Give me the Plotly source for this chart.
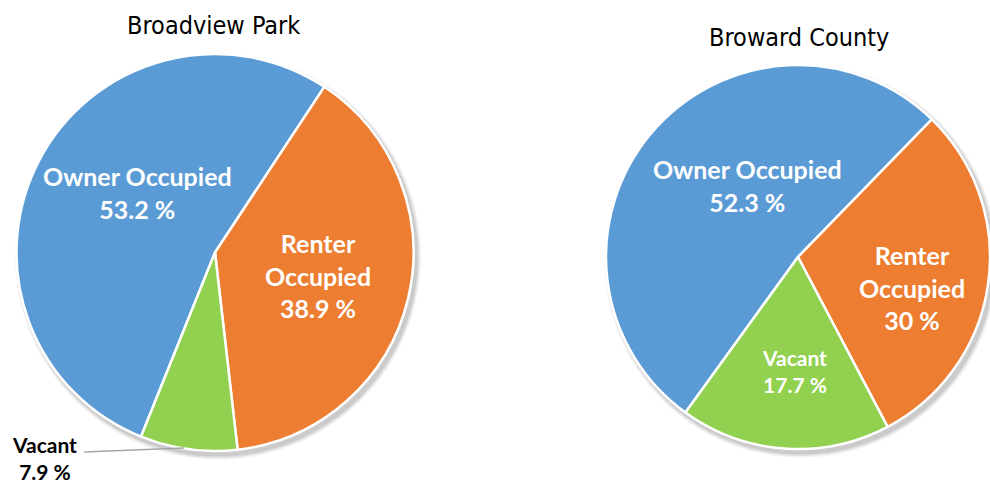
import plotly.graph_objects as go

W, H = 990, 485

categories = ["Owner Occupied", "Renter Occupied", "Vacant"]
broadview_values = [53.2, 38.9, 7.9]
broward_values = [52.3, 30.0, 17.7]
titles = ["Broadview Park", "Broward County"]
colors = ["#5B9BD5", "#ED7D31", "#92D050"]

def px_x(v):
    return v / W

def px_y(v):
    return 1 - v / H

# pie geometry (pixels): left, top, right, bottom
left_box = (16, 54, 414, 451)
right_box = (606, 62, 990, 452)

def dom(b):
    return dict(x=[px_x(b[0]), px_x(b[2])], y=[px_y(b[3]), px_y(b[1])])

fig = go.Figure()
for vals, box, rot in [(broadview_values, left_box, 201.9), (broward_values, right_box, 215.9)]:
    fig.add_trace(go.Pie(
        labels=categories, values=vals, sort=False, direction="clockwise",
        rotation=rot, domain=dom(box), textinfo="none", hoverinfo="label+percent",
        marker=dict(colors=colors, line=dict(color="white", width=2.5)),
        showlegend=False,
    ))

def lab(name):
    return name.replace(" ", "<br>") if name.startswith("Renter") else name

def fmt(v):
    return f"{v:g} %"

annotations = []
LF = "Lato"
ann_specs = [
    (categories[0] + "<br>" + fmt(broadview_values[0]), 137, 193, 25, "white"),
    (lab(categories[1]) + "<br>" + fmt(broadview_values[1]), 318, 275, 25, "white"),
    (categories[2] + "<br>" + fmt(broadview_values[2]), 44, 458, 21, "black"),
    (categories[0] + "<br>" + fmt(broward_values[0]), 747, 185, 25, "white"),
    (lab(categories[1]) + "<br>" + fmt(broward_values[1]), 912, 287, 25, "white"),
    (categories[2] + "<br>" + fmt(broward_values[2]), 794, 371, 21, "white"),
]
for text, x, y, size, col in ann_specs:
    annotations.append(dict(
        text=text, x=px_x(x), y=px_y(y), xref="paper", yref="paper",
        xanchor="center", yanchor="middle", showarrow=False,
        font=dict(family=LF, size=size, color=col, weight="bold"),
    ))

for t, x, y in [(titles[0], 213, 25), (titles[1], 799, 38)]:
    annotations.append(dict(
        text=t, x=px_x(x), y=px_y(y), xref="paper", yref="paper",
        xanchor="center", yanchor="middle", showarrow=False,
        font=dict(family="DejaVu Sans Condensed, Liberation Sans Narrow, sans-serif", size=25, color="black"),
    ))

shapes = [dict(type="line", xref="paper", yref="paper",
               x0=px_x(84), y0=px_y(452), x1=px_x(184), y1=px_y(448),
               line=dict(color="#A6A6A6", width=1.5))]

# soft drop shadow beneath each pie
for box in (left_box, right_box):
    w, h = box[2] - box[0], box[3] - box[1]
    r = min(w, h) / 2
    cx, cy = (box[0] + box[2]) / 2, (box[1] + box[3]) / 2
    for grow, alpha in [(4.5, 0.05), (3.0, 0.07), (1.5, 0.09)]:
        ox, oy = 3, 4
        shapes.append(dict(type="circle", xref="paper", yref="paper", layer="below",
                           x0=px_x(cx + ox - r - grow), x1=px_x(cx + ox + r + grow),
                           y0=px_y(cy + oy + r + grow), y1=px_y(cy + oy - r - grow),
                           fillcolor=f"rgba(0,0,0,{alpha})", line=dict(width=0)))

fig.update_layout(
    width=W, height=H, margin=dict(l=0, r=0, t=0, b=0),
    paper_bgcolor="white", plot_bgcolor="white",
    annotations=annotations, shapes=shapes,
)

fig.write_html("out.html", config={"displayModeBar": False},
               post_script="document.body.style.margin='0px';")
